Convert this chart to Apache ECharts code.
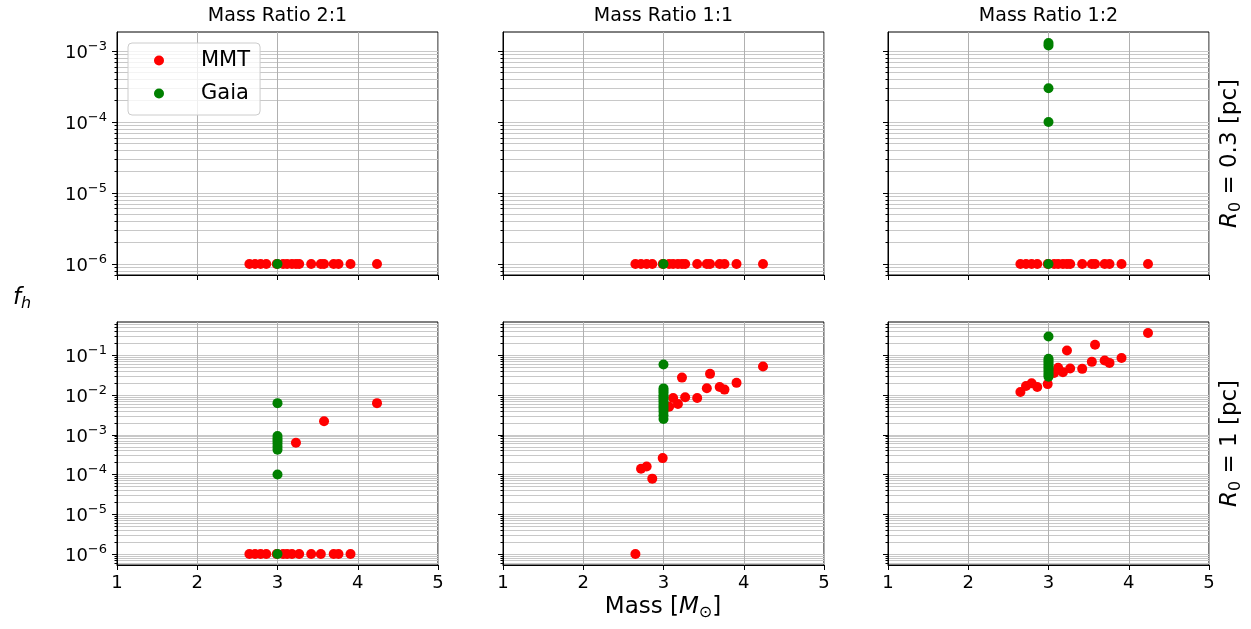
<!DOCTYPE html>
<html><head><meta charset="utf-8">
<script src="https://cdn.jsdelivr.net/npm/echarts@6/dist/echarts.min.js"></script>
<style>html,body{margin:0;padding:0;background:#fff}#c{width:1251px;height:629px}</style>
</head><body><div id="c"></div>
<script>
// ---------------- data ----------------
const columnTitles = ['Mass Ratio 2:1', 'Mass Ratio 1:1', 'Mass Ratio 1:2'];
const rowRadii = ['0.3', '1'];
const xTicks = [1, 2, 3, 4, 5];
const yDecadesTop = [1e-6, 1e-5, 1e-4, 1e-3];
const yDecadesBottom = [1e-6, 1e-5, 1e-4, 1e-3, 1e-2, 1e-1];

// MMT masses [M_sun]
const mmtMass = [2.65, 2.72, 2.79, 2.86, 2.99, 3.07, 3.12, 3.18, 3.23, 3.27, 3.42, 3.54, 3.58, 3.70, 3.76, 3.91, 4.24];
// f_h for MMT, R0 = 0.3 pc
const mmtTop21 = [1e-6, 1e-6, 1e-6, 1e-6, 1e-6, 1e-6, 1e-6, 1e-6, 1e-6, 1e-6, 1e-6, 1e-6, 1e-6, 1e-6, 1e-6, 1e-6, 1e-6];
const mmtTop11 = [1e-6, 1e-6, 1e-6, 1e-6, 1e-6, 1e-6, 1e-6, 1e-6, 1e-6, 1e-6, 1e-6, 1e-6, 1e-6, 1e-6, 1e-6, 1e-6, 1e-6];
const mmtTop12 = [1e-6, 1e-6, 1e-6, 1e-6, 1e-6, 1e-6, 1e-6, 1e-6, 1e-6, 1e-6, 1e-6, 1e-6, 1e-6, 1e-6, 1e-6, 1e-6, 1e-6];
// f_h for MMT, R0 = 1 pc
const mmtBot21 = [1e-6, 1e-6, 1e-6, 1e-6, 1e-6, 1e-6, 1e-6, 1e-6, 6.3e-4, 1e-6, 1e-6, 1e-6, 2.2e-3, 1e-6, 1e-6, 1e-6, 6.3e-3];
const mmtBot11 = [1e-6, 1.4e-4, 1.6e-4, 7.9e-5, 2.6e-4, 5.1e-3, 8.5e-3, 6.0e-3, 2.77e-2, 8.9e-3, 8.5e-3, 1.49e-2, 3.44e-2, 1.61e-2, 1.38e-2, 2.04e-2, 5.27e-2];
const mmtBot12 = [0.012, 0.017, 0.020, 0.016, 0.019, 0.036, 0.049, 0.038, 0.134, 0.047, 0.046, 0.069, 0.186, 0.075, 0.065, 0.086, 0.367];

// Gaia (all at 3 M_sun)
const gaiaMass = 3.0;
const gaiaTop21 = [1e-6];
const gaiaTop11 = [1e-6];
const gaiaTop12 = [1.3e-3, 1.2e-3, 3.0e-4, 1.0e-4, 1e-6];
const gaiaBot21 = [6.3e-3, 9.3e-4, 8.0e-4, 7.0e-4, 6.0e-4, 5.0e-4, 4.2e-4, 1.0e-4, 1e-6];
const gaiaBot11 = [0.059, 0.0148, 0.013, 0.0115, 0.010, 0.009, 0.008, 0.007, 0.006, 0.0052, 0.0045, 0.0038, 0.0031, 0.0025];
const gaiaBot12 = [0.30, 0.083, 0.074, 0.066, 0.058, 0.052, 0.046, 0.041, 0.036, 0.032, 0.029];

const mmtPanels = [[mmtTop21, mmtTop11, mmtTop12], [mmtBot21, mmtBot11, mmtBot12]];
const gaiaPanels = [[gaiaTop21, gaiaTop11, gaiaTop12], [gaiaBot21, gaiaBot11, gaiaBot12]];

// ---------------- layout ----------------
const FONT = 'DejaVu Sans';
const colLeft = [117, 503, 888];
const colWidth = 321;
const rowTop = [32, 322];
const rowHeight = 243;
const yRange = [[10 ** -6.156, 10 ** -2.730], [10 ** -6.278, 10 ** -0.157]];
const yDecades = [yDecadesTop, yDecadesBottom];
const RED = '#ff0000', GREEN = '#008000';

function minorValues(decades) {
  const out = [];
  const lo = decades[0] / 10, hi = decades[decades.length - 1] * 10;
  for (let d = lo; d < hi * 1.0001; d *= 10) {
    for (let k = 1; k <= 9; k++) out.push(+(k * d).toPrecision(3));
  }
  return out;
}

const grids = [], xAxes = [], yAxes = [], series = [];
function yFmt(v) {
  const e = Math.round(Math.log10(v));
  return '{b|10}{s|' + (e < 0 ? '\u2212' : '') + Math.abs(e) + '}';
}

for (let r = 0; r < 2; r++) {
  for (let c = 0; c < 3; c++) {
    const gi = grids.length;
    grids.push({
      left: colLeft[c], top: rowTop[r], width: colWidth, height: rowHeight,
      containLabel: false, outerBoundsMode: 'none',
      show: true, borderColor: '#000', borderWidth: 1, backgroundColor: 'transparent'
    });
    xAxes.push({
      type: 'value', gridIndex: gi, min: xTicks[0], max: xTicks[xTicks.length - 1], interval: 1,
      axisLine: {show: true, onZero: false, lineStyle: {color: '#000', width: 1}},
      axisTick: {show: true, length: 5, lineStyle: {color: '#000', width: 1}},
      axisLabel: {show: r === 1, fontFamily: FONT, fontSize: 18, color: '#000', margin: 9,
                  formatter: v => String(v)},
      splitLine: {show: true, lineStyle: {color: '#b0b0b0', width: 1}}
    });
    const [ymin, ymax] = yRange[r];
    // major y axis
    yAxes.push({
      type: 'log', logBase: 10, gridIndex: gi, min: ymin, max: ymax,
      axisLine: {show: true, onZero: false, lineStyle: {color: '#000', width: 1}},
      axisTick: {show: true, length: 5, customValues: yDecades[r], lineStyle: {color: '#000', width: 1}},
      axisLabel: {show: c === 0, customValues: yDecades[r], formatter: yFmt, margin: 10,
        rich: {
          b: {fontFamily: FONT, fontSize: 18, color: '#000', lineHeight: 22, verticalAlign: 'bottom'},
          s: {fontFamily: FONT, fontSize: 13, color: '#000', lineHeight: 8, verticalAlign: 'top'}
        }},
      splitLine: {show: true, lineStyle: {color: '#c4c4c4', width: 1}}
    });
    // minor y axis (ticks + minor grid)
    const mv = minorValues(yDecades[r]).filter(v => v >= ymin && v <= ymax);
    yAxes.push({
      type: 'log', logBase: 10, gridIndex: gi, min: ymin, max: ymax, position: 'left',
      axisLine: {show: false},
      axisTick: {show: true, length: 2.5, customValues: mv, lineStyle: {color: '#000', width: 1}},
      axisLabel: {show: false},
      splitLine: {show: true, lineStyle: {color: '#c8c8c8', width: 1}}
    });
    const mm = mmtPanels[r][c], gg = gaiaPanels[r][c];
    series.push({
      name: 'MMT', type: 'scatter', xAxisIndex: gi, yAxisIndex: 2 * gi,
      symbol: 'circle', symbolSize: 10, itemStyle: {color: RED, opacity: 1},
      emphasis: {disabled: true},
      data: mmtMass.map((m, i) => [m, mm[i]])
    });
    series.push({
      name: 'Gaia', type: 'scatter', xAxisIndex: gi, yAxisIndex: 2 * gi,
      symbol: 'circle', symbolSize: 10, itemStyle: {color: GREEN, opacity: 1},
      emphasis: {disabled: true},
      data: gg.map(v => [gaiaMass, v])
    });
  }
}

const graphics = [];
columnTitles.forEach((t, c) => {
  graphics.push({type: 'text', x: colLeft[c] + colWidth / 2, y: 16,
    style: {text: t, fontFamily: FONT, fontSize: 19, fill: '#000', align: 'center', verticalAlign: 'middle'}});
});
rowRadii.forEach((rad, r) => {
  graphics.push({type: 'text', x: 1230, y: rowTop[r] + rowHeight / 2, rotation: Math.PI / 2,
    style: {text: '{i|R}{sub|0}{n| = ' + rad + ' [pc]}', align: 'center', verticalAlign: 'middle',
      rich: {
        i: {fontFamily: FONT, fontStyle: 'italic', fontSize: 23, fill: '#000', lineHeight: 28, verticalAlign: 'middle'},
        sub: {fontFamily: FONT, fontSize: 16, fill: '#000', lineHeight: 20, verticalAlign: 'bottom'},
        n: {fontFamily: FONT, fontSize: 23, fill: '#000', lineHeight: 28, verticalAlign: 'middle'}
      }}});
});
graphics.push({type: 'text', x: 22, y: 298,
  style: {text: '{i|f}{sub|h}', align: 'center', verticalAlign: 'middle',
    rich: {
      i: {fontFamily: FONT, fontStyle: 'italic', fontSize: 23, fill: '#000', lineHeight: 28, verticalAlign: 'middle'},
      sub: {fontFamily: FONT, fontStyle: 'italic', fontSize: 16, fill: '#000', lineHeight: 18, verticalAlign: 'bottom'}
    }}});
graphics.push({type: 'text', x: 663, y: 607,
  style: {text: '{n|Mass [}{i|M}{sub|\u2299}{n|]}', align: 'center', verticalAlign: 'middle',
    rich: {
      n: {fontFamily: FONT, fontSize: 23, fill: '#000', lineHeight: 28, verticalAlign: 'middle'},
      i: {fontFamily: FONT, fontStyle: 'italic', fontSize: 23, fill: '#000', lineHeight: 28, verticalAlign: 'middle'},
      sub: {fontFamily: FONT, fontSize: 16, fill: '#000', lineHeight: 18, verticalAlign: 'bottom'}
    }}});

const chart = echarts.init(document.getElementById('c'), null, {renderer: 'canvas'});
chart.setOption({
  animation: false,
  backgroundColor: '#fff',
  grid: grids, xAxis: xAxes, yAxis: yAxes, series: series,
  legend: {
    data: ['MMT', 'Gaia'], orient: 'vertical', left: 128, top: 43,
    padding: [5, 10, 9, 26], itemGap: 8, itemWidth: 10, itemHeight: 10,
    icon: 'circle', selectedMode: false,
    backgroundColor: 'rgba(255,255,255,0.8)', borderColor: '#cccccc', borderWidth: 1, borderRadius: 4,
    textStyle: {fontFamily: FONT, fontSize: 21, color: '#000', lineHeight: 25, padding: [0, 0, 0, 32]}
  },
  graphic: graphics
});
</script></body></html>
